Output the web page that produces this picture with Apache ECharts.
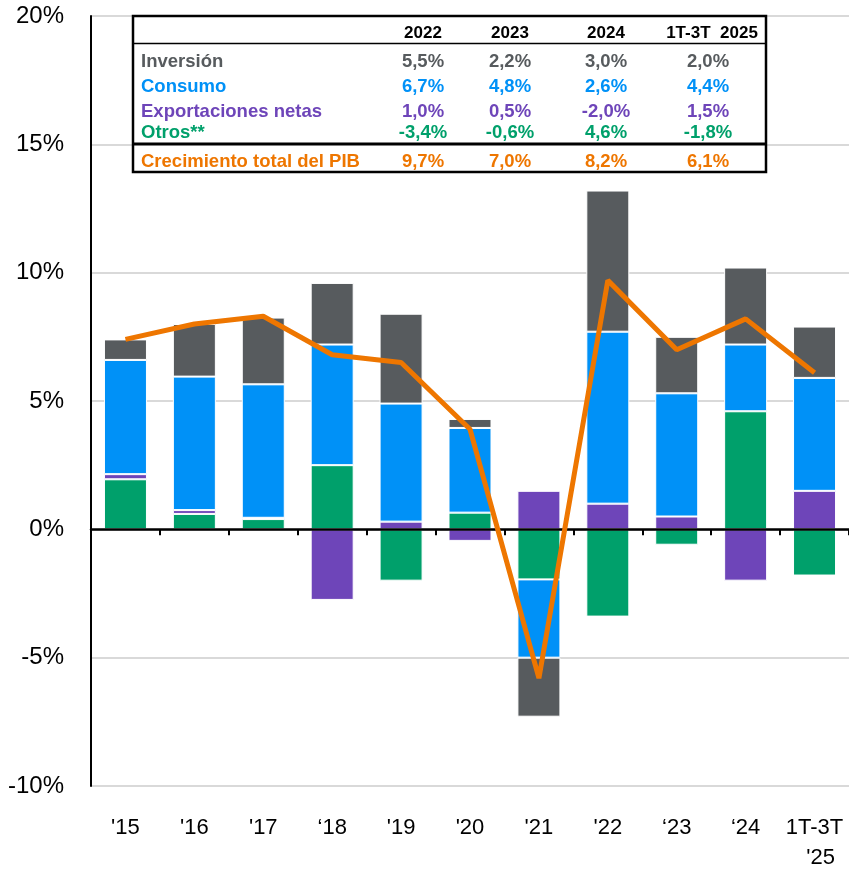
<!DOCTYPE html>
<html>
<head>
<meta charset="utf-8" />
<title>Crecimiento del PIB</title>
<script src="https://cdn.jsdelivr.net/npm/echarts@6/dist/echarts.min.js"></script>
<style>
  html, body { margin: 0; padding: 0; background: #fff; }
  #main { width: 849px; height: 880px; }
</style>
</head>
<body>
<div id="main"></div>
<script>
// categorias y componentes (puntos porcentuales)
var categorias = ["'15", "'16", "'17", "‘18", "'19", "'20", "'21", "'22", "‘23", "‘24", "1T-3T\n  '25"];
var otros        = [1.95, 0.6, 0.4, 2.5, -2.0, 0.65, -1.95, -3.4, -0.6, 4.6, -1.8];
var exportNetas  = [0.2, 0.15, 0.05, -2.75, 0.3, -0.45, 1.5, 1.0, 0.5, -2.0, 1.5];
var consumo      = [4.45, 5.2, 5.2, 4.7, 4.6, 3.3, -3.05, 6.7, 4.8, 2.6, 4.4];
var inversion    = [0.8, 2.05, 2.6, 2.4, 3.5, 0.35, -2.3, 5.5, 2.2, 3.0, 2.0];
var pibTotal     = [7.4, 8.0, 8.3, 6.8, 6.5, 3.9, -5.8, 9.7, 7.0, 8.2, 6.1];
var yTicks       = [-10, -5, 0, 5, 10, 15, 20];

// tabla superior
var tablaCols  = ['2022', '2023', '2024', '1T-3T  2025'];
var tablaFilas = ['Inversión', 'Consumo', 'Exportaciones netas', 'Otros**', 'Crecimiento total del PIB'];
var tablaVals  = [
  ['5,5%', '2,2%', '3,0%', '2,0%'],
  ['6,7%', '4,8%', '2,6%', '4,4%'],
  ['1,0%', '0,5%', '-2,0%', '1,5%'],
  ['-3,4%', '-0,6%', '4,6%', '-1,8%'],
  ['9,7%', '7,0%', '8,2%', '6,1%']
];

var cGris = '#575b5e', cAzul = '#0091f7', cMorado = '#6e45b9', cVerde = '#00a06b', cNaranja = '#ee7600';
var filaColores = [cGris, cAzul, cMorado, cVerde, cNaranja];
var fuente = 'Liberation Sans, Arial, sans-serif';

var myChart = echarts.init(document.getElementById('main'));

// construir la tabla con graphic
var tabla = [];
tabla.push({ type: 'rect', shape: { x: 133, y: 16, width: 633, height: 156 },
  style: { fill: '#fff', stroke: '#000', lineWidth: 2.5 }, z: 100 });
tabla.push({ type: 'line', shape: { x1: 133, y1: 43.5, x2: 766, y2: 43.5 },
  style: { stroke: '#000', lineWidth: 1.5 }, z: 101 });
tabla.push({ type: 'line', shape: { x1: 133, y1: 144, x2: 766, y2: 144 },
  style: { stroke: '#000', lineWidth: 3 }, z: 101 });
var colX = [423, 510, 606, 708];
var colHeadX = [423, 510, 606, 712];
var filaY = [62, 87, 112, 133, 162];
tablaCols.forEach(function (c, i) {
  tabla.push({ type: 'text', z: 102, style: { text: c, x: colHeadX[i], y: 33, fill: '#000',
    font: 'bold 17px ' + fuente, align: 'center', verticalAlign: 'middle' } });
});
tablaFilas.forEach(function (f, r) {
  tabla.push({ type: 'text', z: 102, style: { text: f, x: 141, y: filaY[r], fill: filaColores[r],
    font: 'bold 18.5px ' + fuente, align: 'left', verticalAlign: 'middle' } });
  tablaVals[r].forEach(function (v, i) {
    tabla.push({ type: 'text', z: 102, style: { text: v, x: colX[i], y: filaY[r], fill: filaColores[r],
      font: 'bold 18.5px ' + fuente, align: 'center', verticalAlign: 'middle' } });
  });
});

function barra(nombre, datos, color) {
  return {
    name: nombre, type: 'bar', stack: 'pib', xAxisIndex: 0,
    barWidth: 43, data: datos, z: 2,
    itemStyle: { color: color, borderColor: '#fff', borderWidth: 1 }
  };
}

var option = {
  animation: false,
  backgroundColor: '#fff',
  grid: { left: 91, top: 16, width: 768, height: 770, containLabel: false },
  xAxis: [
    {
      type: 'category', data: categorias, z: 3,
      axisLine: { onZero: true, lineStyle: { color: '#000', width: 2.5 } },
      axisTick: { show: true, length: 6, lineStyle: { color: '#000', width: 2 } },
      axisLabel: { show: false },
      splitLine: { show: false }
    },
    {
      type: 'category', data: categorias, position: 'bottom',
      axisLine: { show: false, onZero: false },
      axisTick: { show: false },
      axisLabel: { color: '#000', fontSize: 22, fontFamily: fuente, margin: 27, lineHeight: 30, interval: 0 },
      splitLine: { show: false }
    }
  ],
  yAxis: {
    type: 'value', min: yTicks[0], max: yTicks[yTicks.length - 1], interval: 5,
    axisLine: { show: true, lineStyle: { color: '#000', width: 2 } },
    axisTick: { show: false },
    axisLabel: { color: '#000', fontSize: 24, fontFamily: fuente, margin: 27, formatter: '{value}%' },
    splitLine: { lineStyle: { color: '#d9d9d9', width: 2 } }
  },
  series: [
    barra('Otros**', otros, cVerde),
    barra('Exportaciones netas', exportNetas, cMorado),
    barra('Consumo', consumo, cAzul),
    barra('Inversión', inversion, cGris),
    {
      name: 'Crecimiento total del PIB', type: 'line', data: pibTotal,
      symbol: 'none', z: 5,
      lineStyle: { color: cNaranja, width: 5 }
    }
  ],
  graphic: tabla
};

myChart.setOption(option);
</script>
</body>
</html>
